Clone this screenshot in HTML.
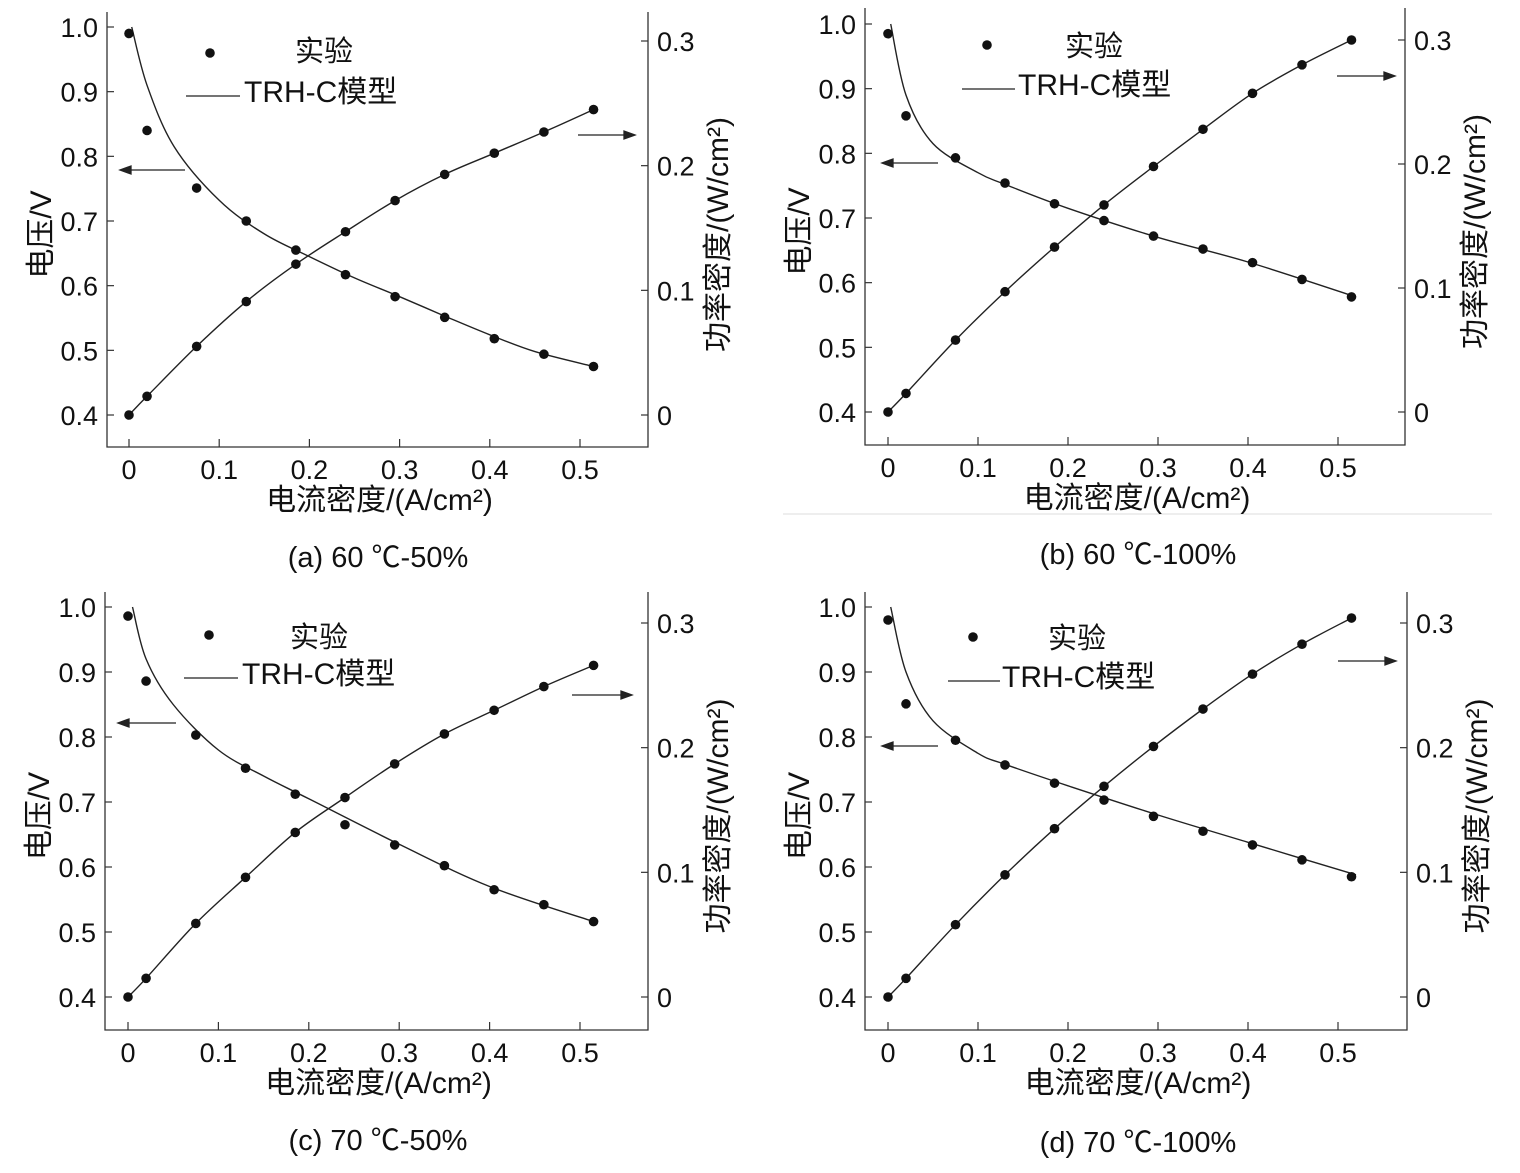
<!DOCTYPE html>
<html><head><meta charset="utf-8"><style>
html,body{margin:0;padding:0;background:#fff}
svg text{font-family:"Liberation Sans","Noto Sans CJK SC",sans-serif;fill:#111}
</style></head><body>
<svg id="chart" xmlns="http://www.w3.org/2000/svg" width="1520" height="1168" viewBox="0 0 1520 1168">
<line x1="783" y1="514" x2="1492" y2="514" stroke="#ddd" stroke-width="1"/>
</svg>
<script>
const xPts = [0,0.02,0.075,0.13,0.185,0.24,0.295,0.35,0.405,0.46,0.515];
const xTicks = [0,0.1,0.2,0.3,0.4,0.5];
const xTickLabels = ["0","0.1","0.2","0.3","0.4","0.5"];
const vTicks = [0.4,0.5,0.6,0.7,0.8,0.9,1.0];
const vTickLabels = ["0.4","0.5","0.6","0.7","0.8","0.9","1.0"];
const pTicks = [0,0.1,0.2,0.3];
const pTickLabels = ["0","0.1","0.2","0.3"];
const captions = ["(a) 60 ℃-50%","(b) 60 ℃-100%","(c) 70 ℃-50%","(d) 70 ℃-100%"];

const vA = [0.99,0.84,0.751,0.70,0.655,0.617,0.583,0.551,0.518,0.494,0.475];
const pA = [0,0.015,0.055,0.091,0.121,0.147,0.172,0.193,0.210,0.227,0.245];
const mXA = [0.003,0.02,0.05,0.1,0.15,0.2,0.25,0.3,0.35,0.4,0.45,0.515];
const mVA = [1.0,0.91,0.815,0.732,0.68,0.645,0.612,0.583,0.553,0.524,0.498,0.475];

const vB = [0.985,0.858,0.793,0.754,0.722,0.696,0.672,0.652,0.631,0.605,0.578];
const pB = [0,0.015,0.058,0.097,0.133,0.167,0.198,0.228,0.257,0.280,0.300];
const mXB = [0.003,0.02,0.05,0.1,0.13,0.2,0.3,0.4,0.52];
const mVB = [1.0,0.89,0.815,0.77,0.752,0.715,0.67,0.632,0.578];

const vC = [0.986,0.886,0.803,0.752,0.712,0.665,0.634,0.602,0.565,0.542,0.516];
const pC = [0,0.015,0.059,0.096,0.132,0.160,0.187,0.211,0.230,0.249,0.266];
const mXC = [0.005,0.02,0.05,0.1,0.15,0.2,0.3,0.4,0.515];
const mVC = [1.0,0.92,0.85,0.78,0.74,0.705,0.635,0.57,0.516];

const vD = [0.98,0.851,0.795,0.757,0.729,0.703,0.678,0.655,0.634,0.611,0.585];
const pD = [0,0.015,0.058,0.098,0.135,0.169,0.201,0.231,0.259,0.283,0.304];
const mXD = [0.003,0.02,0.05,0.1,0.13,0.2,0.3,0.4,0.52];
const mVD = [1.0,0.9,0.825,0.775,0.758,0.725,0.68,0.638,0.588];

const panels = [
 {v:vA,p:pA,mx:mXA,mv:mVA,L:107,R:648,T:12,B:447,x0:129,x5:580,v1:27,v4:415,p3:41,p0:415,
  dot:[210,53],sy:[295,50],ln:[186,240,96],lt:244,la:[185,120,170],ra:[578,635,135],cy:557,cx:378},
 {v:vB,p:pB,mx:mXB,mv:mVB,L:865,R:1405,T:8,B:445,x0:888,x5:1338,v1:24,v4:412,p3:40,p0:412,
  dot:[987,45],sy:[1065,45],ln:[962,1015,89],lt:1018,la:[938,882,163],ra:[1337,1395,76],cy:554,cx:1138},
 {v:vC,p:pC,mx:mXC,mv:mVC,L:105,R:648,T:592,B:1030,x0:128,x5:580,v1:607,v4:997,p3:623,p0:997,
  dot:[209,635],sy:[290,636],ln:[184,238,678],lt:242,la:[176,118,723],ra:[572,632,695],cy:1140,cx:378},
 {v:vD,p:pD,mx:mXD,mv:mVD,L:865,R:1407,T:592,B:1030,x0:888,x5:1338,v1:607,v4:997,p3:623,p0:997,
  dot:[973,637],sy:[1048,637],ln:[948,1000,681],lt:1002,la:[938,882,746],ra:[1338,1396,661],cy:1142,cx:1138}
];

const svg = document.getElementById('chart');
const NS = "http://www.w3.org/2000/svg";
function mk(tag, attrs, parent){const e=document.createElementNS(NS,tag);for(const k in attrs)e.setAttribute(k,attrs[k]);(parent||svg).appendChild(e);return e;}
function txt(s,x,y,size,anchor,parent){const t=mk('text',{x:x,y:y,'font-size':size,'text-anchor':anchor||'middle'},parent);t.textContent=s;return t;}
function smooth(pts){
  let d='M'+pts[0][0].toFixed(1)+','+pts[0][1].toFixed(1);
  for(let i=0;i<pts.length-1;i++){
    const p0=pts[i-1]||pts[i],p1=pts[i],p2=pts[i+1],p3=pts[i+2]||pts[i+1];
    const c1=[p1[0]+(p2[0]-p0[0])/6,p1[1]+(p2[1]-p0[1])/6];
    const c2=[p2[0]-(p3[0]-p1[0])/6,p2[1]-(p3[1]-p1[1])/6];
    d+=` C${c1[0].toFixed(1)},${c1[1].toFixed(1)} ${c2[0].toFixed(1)},${c2[1].toFixed(1)} ${p2[0].toFixed(1)},${p2[1].toFixed(1)}`;
  }
  return d;
}

panels.forEach((P,i)=>{
  const g = mk('g',{});
  
  
  const xs = x=>P.x0+(P.x5-P.x0)*x/0.5;
  const ys = v=>P.v4-(P.v4-P.v1)*(v-0.4)/0.6;
  const yp = p=>P.p0-(P.p0-P.p3)*p/0.3;
  const ax = mk('path',{d:`M${P.L},${P.T} V${P.B} H${P.R} V${P.T}`,fill:'none',stroke:'#333','stroke-width':1.3},g);
  
  
  xTicks.forEach((t,k)=>{
    const x=xs(t);
    mk('line',{x1:x,y1:P.B,x2:x,y2:P.B-8,stroke:'#333','stroke-width':1.2},g);
    const l=txt(xTickLabels[k],x,P.B+32,27,'middle',g);
    
    
  });
  vTicks.forEach((t,k)=>{
    const y=ys(t);
    mk('line',{x1:P.L,y1:y,x2:P.L+7,y2:y,stroke:'#333','stroke-width':1.2},g);
    const l=txt(vTickLabels[k],P.L-9,y+10,27,'end',g);
    
    
  });
  pTicks.forEach((t,k)=>{
    const y=yp(t);
    mk('line',{x1:P.R,y1:y,x2:P.R-7,y2:y,stroke:'#333','stroke-width':1.2},g);
    const l=txt(pTickLabels[k],P.R+9,y+10,27,'start',g);
    
    
  });
  const xt=txt('电流密度/(A/cm²)',(P.L+P.R)/2+2,P.B+63,30,'middle',g);
  
  
  const lcY=(P.T+P.B)/2+5;
  const yt=txt('电压/V',0,0,30,'middle',g);
  yt.setAttribute('transform',`translate(${P.L-56},${lcY}) rotate(-90)`);
  
  
  const rt=txt('功率密度/(W/cm²)',0,0,30,'middle',g);
  rt.setAttribute('transform',`translate(${P.R+80},${lcY}) rotate(-90)`);
  
  
  const cap=txt(captions[i],P.cx,P.cy+10,29,'middle',g);
  
  
  const mv=mk('path',{d:smooth(P.mx.map((x,k)=>[xs(x),ys(P.mv[k])])),fill:'none',stroke:'#222','stroke-width':1.4},g);
  
  
  const mp=mk('path',{d:smooth(xPts.map((x,k)=>[xs(x),yp(P.p[k])])),fill:'none',stroke:'#222','stroke-width':1.4},g);
  
  
  xPts.forEach((x,k)=>{
    const c1=mk('circle',{cx:xs(x),cy:ys(P.v[k]),r:4.8,fill:'#111'},g);
    
    
    const c2=mk('circle',{cx:xs(x),cy:yp(P.p[k]),r:4.8,fill:'#111'},g);
    
    
  });
  const ld=mk('circle',{cx:P.dot[0],cy:P.dot[1],r:4.8,fill:'#111'},g);
  
  
  const ls=txt('实验',P.sy[0],P.sy[1]+11,29,'start',g);
  
  
  const ll=mk('line',{x1:P.ln[0],y1:P.ln[2],x2:P.ln[1],y2:P.ln[2],stroke:'#222','stroke-width':1.3},g);
  
  
  const lt=txt('TRH-C模型',P.lt,P.ln[2]+6,30,'start',g);
  
  
  [[P.la,'left-axis-arrow'],[P.ra,'right-axis-arrow']].forEach(([a,n])=>{
    const dir=Math.sign(a[1]-a[0]);
    const ar=mk('path',{d:`M${a[0]},${a[2]} H${a[1]-dir*2} M${a[1]},${a[2]} l${-dir*11},-4 v8 z`,stroke:'#222','stroke-width':1.3,fill:'#222'},g);
    
    
  });
});
</script>
</body></html>
